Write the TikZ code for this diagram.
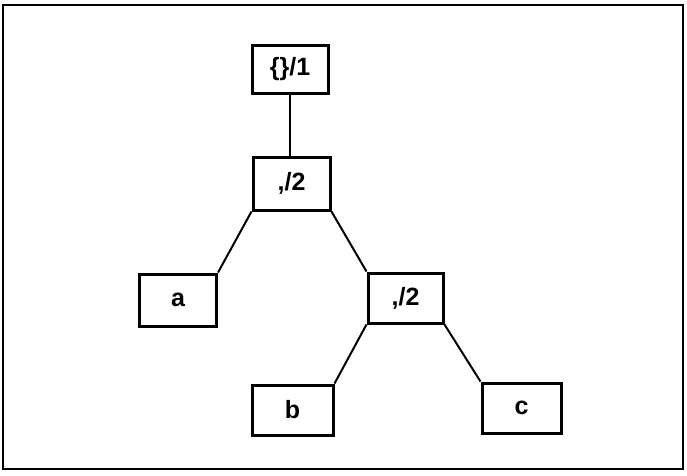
\documentclass[tikz,border=0pt]{standalone}
\usepackage{fontspec}
\setmainfont{Liberation Sans}
\begin{document}
\begin{tikzpicture}[x=1pt,y=-1pt,
  treebox/.style={draw,line width=3pt,inner sep=0pt,
    font=\fontsize{25}{28}\selectfont\bfseries},
  edge/.style={line width=2pt}]
% page and outer frame
\useasboundingbox (0,0) rectangle (687,475);
\draw[line width=2.6pt] (3,5) rectangle (683,469);
% tree nodes
\node[treebox,minimum width=76pt,minimum height=48pt] (r)  at (290,69)    {\{\}/1};
\node[treebox,minimum width=77pt,minimum height=53pt] (p1) at (291.5,183.5) {,/2};
\node[treebox,minimum width=77pt,minimum height=52pt] (a)  at (178,300)   {a};
\node[treebox,minimum width=75pt,minimum height=50pt] (p2) at (405.5,298) {,/2};
\node[treebox,minimum width=81pt,minimum height=50pt] (b)  at (292.5,410) {b};
\node[treebox,minimum width=79pt,minimum height=50pt] (c)  at (521.5,408) {c};
% connectors
\draw[edge] (r.south) -- (r.south |- p1.north);
\draw[edge] (p1.south west) -- (a.north east);
\draw[edge] (p1.south east) -- (p2.north west);
\draw[edge] (p2.south west) -- (b.north east);
\draw[edge] (p2.south east) -- (c.north west);
\end{tikzpicture}
\end{document}
